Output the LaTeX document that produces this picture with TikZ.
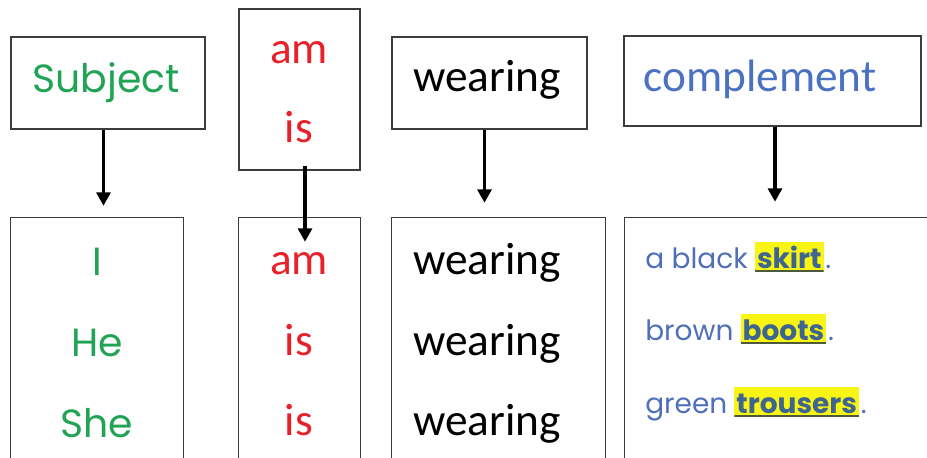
\documentclass[tikz,border=0pt]{standalone}
\usepackage{fontspec}
\setmainfont{Carlito}
\newfontfamily\calfont{Carlito}
\newfontfamily\comicfont{Poppins}
\usetikzlibrary{arrows.meta}
\definecolor{boxline}{HTML}{3C3C3C}
\definecolor{subjgreen}{HTML}{20A454}
\definecolor{verbred}{HTML}{E8202A}
\definecolor{compblue}{HTML}{4A72C0}
\definecolor{lineblue}{HTML}{4F6FB8}
\definecolor{boldblue}{HTML}{3E6590}
\definecolor{hlyellow}{HTML}{F8F414}
\definecolor{ulcol}{HTML}{4B5A3A}
\tikzset{
  box/.style={draw=boxline, line width=1.1pt, inner sep=0pt},
  openbox/.style={inner sep=0pt},
  sides/.style={draw=boxline, line width=1.1pt},
  arr/.style={line width=2.3pt, -{Triangle[length=10pt,width=10.5pt]}},
  caltxt/.style={font=\calfont\fontsize{34}{36}\selectfont, inner sep=0pt, anchor=base},
  comtxt/.style={font=\comicfont\fontsize{29.5}{31}\selectfont, inner sep=0pt, anchor=base},
  smalltxt/.style={font=\comicfont\fontsize{21}{23}\selectfont, inner sep=0pt, anchor=base west, text=lineblue},
  hl/.style={font=\comicfont\bfseries\fontsize{21}{23}\selectfont, text=boldblue, fill=hlyellow,
    inner xsep=1.5pt, inner ysep=3.2pt, text height=16.3pt, text depth=0pt, anchor=base west,
    path picture={\draw[ulcol, line width=1.6pt]
      ([yshift=0.8pt]path picture bounding box.south west) -- ([yshift=0.8pt]path picture bounding box.south east);}},
}
\begin{document}
\begin{tikzpicture}[x=0.75pt,y=-0.75pt]
\useasboundingbox (0,0) rectangle (927,457);
% top boxes
\node[box, minimum width=145.5pt, minimum height=69pt] (subjT) at (108,83) {};
\node[box, minimum width=90.75pt, minimum height=120.75pt] (amT) at (299.5,89.5) {};
\node[box, minimum width=146.25pt, minimum height=69pt] (wearT) at (489.5,83) {};
\node[box, minimum width=222.75pt, minimum height=67.5pt] (compT) at (772.5,81) {};
% bottom boxes (open at the bottom)
\node[openbox, minimum width=129pt, minimum height=182pt] (subjB) at (97,339.3) {};
\node[openbox, minimum width=90.75pt, minimum height=182pt] (amB) at (299.5,339.3) {};
\node[openbox, minimum width=159.75pt, minimum height=182pt] (wearB) at (498.5,339.3) {};
\node[openbox, minimum width=226.5pt, minimum height=182pt] (compB) at (776,339.3) {};
\draw[sides] (subjB.south west) |- (subjB.north east) -- (subjB.south east);
\draw[sides] (amB.south west) |- (amB.north east) -- (amB.south east);
\draw[sides] (wearB.south west) |- (wearB.north east) -- (wearB.south east);
\draw[sides] (compB.south west) |- (compB.north east);
% top texts
\node[comtxt, text=subjgreen] (tSubj) at (106,92) {Subject};
\node[caltxt, text=verbred] (tAm) at (299,63) {am};
\node[caltxt, text=verbred] (tIs) at (299,142) {is};
\node[caltxt] (tWear) at (487,91) {wearing};
\node[caltxt, text=compblue] (tComp) at (760,91) {complement};
% bottom texts
\node[comtxt, text=subjgreen] (bI) at (97,275) {I};
\node[comtxt, text=subjgreen] (bHe) at (97,356) {He};
\node[comtxt, text=subjgreen] (bShe) at (97,437) {She};
\node[caltxt, text=verbred] (bAm) at (299,274) {am};
\node[caltxt, text=verbred] (bIs1) at (299,355) {is};
\node[caltxt, text=verbred] (bIs2) at (299,435) {is};
\node[caltxt] (bW1) at (487,274) {wearing};
\node[caltxt] (bW2) at (487,355) {wearing};
\node[caltxt] (bW3) at (487,435) {wearing};
% complement lines
\node[smalltxt] (c1a) at (645,268) {a black};
\node[hl] (c1b) at ([xshift=5pt]c1a.base east) {skirt};
\node[smalltxt] (c1c) at ([xshift=1pt]c1b.base east) {.};
\node[smalltxt] (c2a) at (645,340) {brown};
\node[hl] (c2b) at ([xshift=5pt]c2a.base east) {boots};
\node[smalltxt] (c2c) at ([xshift=1pt]c2b.base east) {.};
\node[smalltxt] (c3a) at (645,413) {green};
\node[hl] (c3b) at ([xshift=5pt]c3a.base east) {trousers};
\node[smalltxt] (c3c) at ([xshift=1pt]c3b.base east) {.};
% arrows
\draw[arr, shorten >=9pt] ([xshift=-3.375pt]subjT.south) -- ([xshift=4.875pt]subjB.north);
\draw[arr, shorten <=-3.75pt, shorten >=-18pt] ([xshift=4.125pt]amT.south) -- ([xshift=4.125pt]amB.north);
\draw[arr, shorten >=11.25pt] ([xshift=-3.75pt]wearT.south) -- ([xshift=-10.5pt]wearB.north);
\draw[arr, shorten >=12pt] ([xshift=1.875pt]compT.south) -- ([xshift=-0.75pt]compB.north);
\end{tikzpicture}
\end{document}
